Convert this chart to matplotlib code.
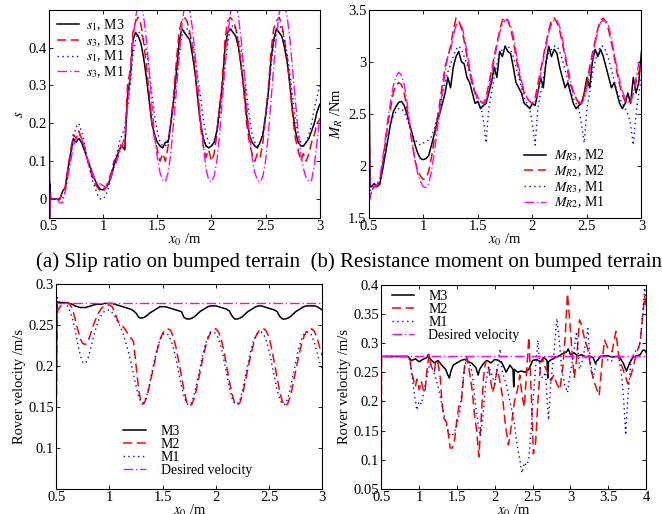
#!/usr/bin/env python3
"""Slip ratio, resistance moment and rover velocity on bumped terrain (4 panels)."""

import numpy as np
import matplotlib
matplotlib.use("Agg")
import matplotlib.pyplot as plt

plt.rcParams["font.family"] = ["Liberation Serif", "DejaVu Serif"]
plt.rcParams["mathtext.fontset"] = "stix"
plt.rcParams["font.size"] = 10.5

# shared x grid for panels a-c: a few points at the start spike, then 0.525..3.0 every 0.025
X_START = [0.5, 0.505, 0.51, 0.515]
X_GRID = X_START + list(np.round(np.arange(0.525, 3.0001, 0.025), 3))

# ---- (a) slip ratio ----
s1_m3 = [0.5, -0.05, 0.04, 0.0,
         0.0, 0.0, 0.0, 0.0, 0.02, 0.03, 0.08, 0.12, 0.16, 0.15,
         0.16, 0.15, 0.13, 0.11, 0.09, 0.07, 0.05, 0.035, 0.025, 0.025,
         0.03, 0.04, 0.06, 0.09, 0.11, 0.13, 0.14, 0.13, 0.27, 0.32,
         0.42, 0.44, 0.43, 0.41, 0.37, 0.32, 0.26, 0.2, 0.17, 0.15,
         0.14, 0.135, 0.15, 0.15, 0.2, 0.26, 0.33, 0.41, 0.45, 0.44,
         0.43, 0.42, 0.38, 0.33, 0.26, 0.2, 0.16, 0.14, 0.135, 0.14,
         0.15, 0.18, 0.24, 0.3, 0.4, 0.44, 0.45, 0.44, 0.43, 0.4,
         0.35, 0.29, 0.22, 0.17, 0.15, 0.14, 0.135, 0.15, 0.17, 0.22,
         0.28, 0.37, 0.42, 0.45, 0.44, 0.43, 0.4, 0.36, 0.3, 0.23,
         0.18, 0.15, 0.14, 0.14, 0.15, 0.16, 0.18, 0.2, 0.23, 0.25]
s3_m3 = [0.5, -0.05, 0.02, 0.0,
         0.0, 0.0, 0.0, 0.0, 0.02, 0.03, 0.08, 0.13, 0.17, 0.16,
         0.18, 0.16, 0.14, 0.11, 0.08, 0.06, 0.04, 0.03, 0.02, 0.02,
         0.03, 0.05, 0.07, 0.1, 0.11, 0.13, 0.15, 0.14, 0.3, 0.34,
         0.44, 0.47, 0.48, 0.46, 0.41, 0.35, 0.28, 0.2, 0.16, 0.13,
         0.1, 0.12, 0.1, 0.14, 0.2, 0.27, 0.36, 0.44, 0.47, 0.48,
         0.47, 0.44, 0.4, 0.34, 0.26, 0.19, 0.14, 0.11, 0.13, 0.1,
         0.12, 0.17, 0.24, 0.31, 0.42, 0.47, 0.48, 0.47, 0.45, 0.41,
         0.35, 0.28, 0.2, 0.15, 0.12, 0.1, 0.12, 0.11, 0.15, 0.22,
         0.29, 0.39, 0.45, 0.47, 0.48, 0.46, 0.42, 0.37, 0.3, 0.22,
         0.16, 0.13, 0.1, 0.12, 0.1, 0.12, 0.15, 0.17, 0.2, 0.21]
s1_m1 = [0.5, -0.05, 0.03, 0.0,
         0.0, 0.0, 0.0, 0.0, 0.0, 0.02, 0.06, 0.11, 0.16, 0.19,
         0.2, 0.18, 0.15, 0.11, 0.08, 0.05, 0.03, 0.01, 0.0, 0.0,
         0.01, 0.03, 0.06, 0.09, 0.12, 0.15, 0.17, 0.19, 0.24, 0.3,
         0.38, 0.42, 0.44, 0.44, 0.42, 0.39, 0.34, 0.28, 0.22, 0.18,
         0.15, 0.14, 0.14, 0.16, 0.2, 0.25, 0.31, 0.38, 0.43, 0.45,
         0.45, 0.43, 0.41, 0.37, 0.32, 0.27, 0.21, 0.17, 0.15, 0.14,
         0.15, 0.18, 0.22, 0.28, 0.35, 0.41, 0.45, 0.46, 0.45, 0.42,
         0.39, 0.34, 0.28, 0.22, 0.17, 0.15, 0.14, 0.15, 0.18, 0.22,
         0.28, 0.35, 0.41, 0.45, 0.46, 0.45, 0.42, 0.38, 0.33, 0.27,
         0.21, 0.17, 0.15, 0.14, 0.15, 0.17, 0.2, 0.24, 0.27, 0.3]
s3_m1 = [0.5, -0.05, 0.0, 0.0,
         0.0, 0.0, 0.0, -0.01, -0.01, 0.02, 0.06, 0.1, 0.14, 0.16,
         0.17, 0.16, 0.14, 0.11, 0.09, 0.07, 0.05, 0.04, 0.04, 0.035,
         0.03, 0.04, 0.06, 0.08, 0.1, 0.12, 0.14, 0.17, 0.24, 0.33,
         0.42, 0.48, 0.52, 0.52, 0.48, 0.42, 0.34, 0.25, 0.17, 0.11,
         0.07, 0.05, 0.045, 0.07, 0.12, 0.2, 0.28, 0.37, 0.45, 0.51,
         0.52, 0.5, 0.45, 0.38, 0.3, 0.21, 0.14, 0.08, 0.05, 0.045,
         0.06, 0.1, 0.17, 0.26, 0.35, 0.43, 0.49, 0.52, 0.52, 0.48,
         0.42, 0.34, 0.25, 0.17, 0.11, 0.07, 0.05, 0.045, 0.06, 0.1,
         0.17, 0.26, 0.35, 0.43, 0.49, 0.52, 0.52, 0.48, 0.42, 0.34,
         0.26, 0.18, 0.12, 0.08, 0.055, 0.045, 0.05, 0.09, 0.15, 0.22]

# ---- (b) resistance moment ----
mr3_m2 = [3.5, 2.6, 2.0, 1.8,
          1.8, 1.83, 1.8, 1.82, 1.95, 2.1, 2.25, 2.4, 2.52, 2.57,
          2.61, 2.62, 2.58, 2.5, 2.4, 2.3, 2.2, 2.12, 2.07, 2.06,
          2.07, 2.1, 2.2, 2.3, 2.42, 2.5, 2.6, 2.7, 2.85, 2.75,
          2.95, 3.05, 3.1, 3.0, 2.98, 2.85, 2.8, 2.7, 2.6, 2.62,
          2.55, 2.58, 2.6, 2.7, 2.8, 2.95, 2.85, 3.1, 3.05, 3.15,
          3.1, 3.08, 2.95, 2.8, 2.75, 2.7, 2.6, 2.58, 2.55, 2.6,
          2.58, 2.7, 2.85, 2.75, 3.0, 3.15, 3.05, 3.12, 3.08, 2.95,
          2.85, 2.75, 2.8, 2.7, 2.6, 2.55, 2.58, 2.6, 2.7, 2.85,
          2.75, 3.0, 3.12, 3.05, 3.12, 3.05, 2.95, 2.85, 2.75, 2.8,
          2.7, 2.6, 2.55, 2.6, 2.7, 2.6, 2.85, 2.7, 2.8, 3.1]
mr2_m2 = [3.5, 2.5, 1.9, 1.8,
          1.8, 1.8, 1.8, 1.85, 2.0, 2.2, 2.4, 2.55, 2.7, 2.78,
          2.8, 2.78, 2.7, 2.55, 2.38, 2.2, 2.05, 1.95, 1.9, 1.87,
          1.88, 1.95, 2.08, 2.25, 2.42, 2.6, 2.78, 2.95, 3.05, 3.15,
          3.3, 3.42, 3.4, 3.32, 3.2, 3.05, 2.9, 2.78, 2.7, 2.65,
          2.62, 2.6, 2.65, 2.78, 2.92, 3.05, 3.18, 3.3, 3.4, 3.43,
          3.4, 3.32, 3.2, 3.05, 2.9, 2.78, 2.7, 2.65, 2.62, 2.6,
          2.65, 2.78, 2.92, 3.05, 3.18, 3.3, 3.4, 3.42, 3.38, 3.3,
          3.18, 3.05, 2.9, 2.78, 2.7, 2.65, 2.6, 2.6, 2.68, 2.8,
          2.95, 3.08, 3.2, 3.32, 3.4, 3.42, 3.38, 3.3, 3.18, 3.05,
          2.9, 2.78, 2.68, 2.62, 2.6, 2.62, 2.7, 2.8, 2.9, 3.0]
mr3_m1 = [3.5, 2.5, 1.9, 1.68,
          1.75, 1.82, 1.82, 1.85, 1.98, 2.12, 2.28, 2.4, 2.48, 2.52,
          2.55, 2.55, 2.52, 2.45, 2.38, 2.3, 2.25, 2.22, 2.2, 2.22,
          2.23, 2.25, 2.28, 2.35, 2.45, 2.55, 2.68, 2.8, 2.9, 2.98,
          3.05, 3.12, 3.15, 3.12, 3.05, 2.98, 2.9, 2.8, 2.7, 2.62,
          2.58, 2.45, 2.22, 2.55, 2.7, 2.85, 2.98, 3.08, 3.12, 3.15,
          3.15, 3.12, 3.05, 2.95, 2.85, 2.75, 2.65, 2.6, 2.55, 2.4,
          2.2, 2.55, 2.7, 2.85, 2.98, 3.08, 3.12, 3.15, 3.15, 3.1,
          3.02, 2.92, 2.82, 2.72, 2.65, 2.6, 2.55, 2.4, 2.22, 2.55,
          2.7, 2.88, 3.0, 3.1, 3.15, 3.15, 3.1, 3.02, 2.92, 2.82,
          2.72, 2.65, 2.6, 2.55, 2.5, 2.4, 2.2, 2.5, 2.7, 2.85]
mr2_m1 = [3.5, 2.5, 1.68, 1.7,
          1.75, 1.8, 1.82, 1.88, 2.05, 2.25, 2.45, 2.62, 2.77, 2.86,
          2.9, 2.87, 2.78, 2.62, 2.42, 2.22, 2.05, 1.92, 1.85, 1.8,
          1.79, 1.83, 1.95, 2.12, 2.32, 2.52, 2.72, 2.9, 3.05, 3.1,
          3.25, 3.35, 3.38, 3.35, 3.25, 3.1, 2.95, 2.82, 2.72, 2.66,
          2.62, 2.6, 2.63, 2.72, 2.88, 3.02, 3.15, 3.28, 3.36, 3.4,
          3.4, 3.35, 3.25, 3.1, 2.95, 2.82, 2.72, 2.66, 2.62, 2.6,
          2.62, 2.72, 2.88, 3.02, 3.15, 3.28, 3.36, 3.4, 3.4, 3.34,
          3.22, 3.08, 2.94, 2.82, 2.72, 2.66, 2.62, 2.6, 2.64, 2.75,
          2.9, 3.04, 3.17, 3.3, 3.38, 3.4, 3.4, 3.34, 3.22, 3.08,
          2.94, 2.82, 2.72, 2.65, 2.62, 2.6, 2.7, 2.85, 2.98, 3.05]

# ---- (c) rover velocity, bumped terrain ----
DESIRED_V = 0.277
v_m3_c = [0.16, 0.27, 0.278, 0.277,
          0.277, 0.277, 0.277, 0.277, 0.276, 0.275, 0.273, 0.272, 0.271, 0.271,
          0.271, 0.272, 0.273, 0.274, 0.275, 0.275, 0.275, 0.276, 0.276, 0.276,
          0.276, 0.275, 0.274, 0.273, 0.272, 0.271, 0.27, 0.269, 0.267, 0.264,
          0.259, 0.258, 0.259, 0.261, 0.264, 0.266, 0.268, 0.27, 0.272, 0.272,
          0.272, 0.271, 0.27, 0.269, 0.268, 0.267, 0.266, 0.259, 0.257, 0.257,
          0.258, 0.26, 0.263, 0.266, 0.268, 0.27, 0.272, 0.273, 0.273, 0.273,
          0.272, 0.271, 0.27, 0.269, 0.267, 0.261, 0.257, 0.257, 0.258, 0.26,
          0.263, 0.266, 0.268, 0.27, 0.272, 0.273, 0.273, 0.272, 0.271, 0.27,
          0.269, 0.268, 0.266, 0.26, 0.257, 0.257, 0.258, 0.26, 0.263, 0.266,
          0.268, 0.27, 0.272, 0.273, 0.273, 0.273, 0.273, 0.272, 0.27, 0.268]
v_m2_c = [0.13, 0.22, 0.262, 0.268,
          0.27, 0.274, 0.276, 0.277, 0.275, 0.27, 0.258, 0.245, 0.233, 0.227,
          0.226, 0.23, 0.24, 0.25, 0.258, 0.265, 0.27, 0.273, 0.274, 0.274,
          0.272, 0.265, 0.256, 0.25, 0.248, 0.244, 0.238, 0.234, 0.23, 0.2,
          0.17, 0.153, 0.154, 0.162, 0.175, 0.19, 0.205, 0.22, 0.232, 0.24,
          0.244, 0.245, 0.243, 0.235, 0.222, 0.205, 0.188, 0.17, 0.156, 0.151,
          0.153, 0.162, 0.176, 0.192, 0.208, 0.222, 0.233, 0.241, 0.245, 0.245,
          0.241, 0.232, 0.218, 0.2, 0.182, 0.166, 0.155, 0.152, 0.155, 0.165,
          0.18, 0.196, 0.212, 0.225, 0.236, 0.242, 0.245, 0.245, 0.242, 0.234,
          0.22, 0.203, 0.185, 0.168, 0.156, 0.151, 0.154, 0.163, 0.178, 0.194,
          0.21, 0.224, 0.235, 0.242, 0.245, 0.245, 0.242, 0.234, 0.222, 0.212]
v_m1_c = [0.14, 0.25, 0.283, 0.28,
          0.278, 0.277, 0.277, 0.274, 0.268, 0.258, 0.245, 0.228, 0.213, 0.204,
          0.203, 0.21, 0.222, 0.235, 0.247, 0.256, 0.262, 0.266, 0.268, 0.268,
          0.265, 0.26, 0.254, 0.248, 0.24, 0.23, 0.218, 0.205, 0.19, 0.175,
          0.162, 0.155, 0.155, 0.163, 0.177, 0.193, 0.208, 0.222, 0.232, 0.238,
          0.24, 0.238, 0.232, 0.222, 0.208, 0.192, 0.176, 0.163, 0.154, 0.152,
          0.156, 0.167, 0.182, 0.198, 0.213, 0.226, 0.235, 0.24, 0.241, 0.239,
          0.233, 0.222, 0.207, 0.19, 0.174, 0.161, 0.154, 0.153, 0.158, 0.17,
          0.186, 0.202, 0.217, 0.229, 0.237, 0.241, 0.241, 0.238, 0.23, 0.218,
          0.202, 0.186, 0.17, 0.159, 0.153, 0.153, 0.16, 0.173, 0.189, 0.205,
          0.22, 0.231, 0.238, 0.241, 0.241, 0.237, 0.228, 0.216, 0.204, 0.195]

# ---- (d) rover velocity, second terrain: (x0, v) samples ----
v_m3_d = [(0.5, 0.277), (0.85, 0.277), (0.9, 0.27), (0.95, 0.273), (1.0, 0.268),
          (1.05, 0.272), (1.1, 0.275), (1.12, 0.28), (1.15, 0.272), (1.2, 0.266),
          (1.25, 0.27), (1.3, 0.262), (1.35, 0.255), (1.38, 0.245), (1.4, 0.24),
          (1.42, 0.252), (1.45, 0.262), (1.5, 0.266), (1.55, 0.27), (1.6, 0.272),
          (1.65, 0.268), (1.7, 0.265), (1.75, 0.258), (1.78, 0.245), (1.8, 0.255),
          (1.85, 0.265), (1.9, 0.27), (1.95, 0.266), (2.0, 0.272), (2.05, 0.27),
          (2.1, 0.265), (2.15, 0.25), (2.2, 0.262), (2.24, 0.255), (2.25, 0.225),
          (2.26, 0.255), (2.3, 0.25), (2.35, 0.252), (2.4, 0.25), (2.45, 0.255),
          (2.5, 0.27), (2.55, 0.272), (2.6, 0.268), (2.65, 0.275), (2.69, 0.27),
          (2.7, 0.24), (2.71, 0.268), (2.75, 0.272), (2.8, 0.275), (2.85, 0.278),
          (2.9, 0.282), (2.95, 0.285), (2.97, 0.29), (3.0, 0.28), (3.05, 0.283),
          (3.1, 0.278), (3.15, 0.28), (3.2, 0.276), (3.25, 0.278), (3.3, 0.275),
          (3.33, 0.265), (3.35, 0.27), (3.4, 0.277), (3.45, 0.278), (3.5, 0.278),
          (3.55, 0.276), (3.6, 0.277), (3.65, 0.276), (3.7, 0.265), (3.74, 0.252),
          (3.78, 0.265), (3.82, 0.275), (3.87, 0.278), (3.92, 0.28), (3.96, 0.288),
          (3.98, 0.288), (4.0, 0.284)]
v_m2_d = [(0.5, 0.07), (0.503, 0.277), (0.85, 0.277), (0.88, 0.27), (0.9, 0.25),
          (0.93, 0.235), (0.95, 0.225), (0.97, 0.238), (1.0, 0.22), (1.03, 0.235),
          (1.06, 0.215), (1.08, 0.22), (1.1, 0.25), (1.13, 0.28), (1.16, 0.26),
          (1.2, 0.25), (1.22, 0.27), (1.25, 0.265), (1.28, 0.24), (1.3, 0.2),
          (1.33, 0.17), (1.36, 0.165), (1.38, 0.15), (1.41, 0.12), (1.44, 0.12),
          (1.47, 0.135), (1.5, 0.17), (1.53, 0.195), (1.56, 0.2), (1.6, 0.26),
          (1.63, 0.275), (1.66, 0.255), (1.7, 0.22), (1.73, 0.18), (1.76, 0.15),
          (1.79, 0.105), (1.82, 0.17), (1.85, 0.24), (1.88, 0.27), (1.91, 0.265),
          (1.94, 0.24), (1.97, 0.215), (2.0, 0.23), (2.03, 0.255), (2.06, 0.24),
          (2.1, 0.21), (2.14, 0.16), (2.18, 0.125), (2.2, 0.14), (2.23, 0.17),
          (2.26, 0.2), (2.3, 0.22), (2.33, 0.245), (2.36, 0.21), (2.39, 0.19),
          (2.42, 0.25), (2.45, 0.31), (2.48, 0.22), (2.51, 0.11), (2.54, 0.13),
          (2.57, 0.2), (2.6, 0.255), (2.63, 0.275), (2.66, 0.26), (2.7, 0.25),
          (2.74, 0.235), (2.78, 0.245), (2.82, 0.23), (2.86, 0.22), (2.9, 0.26),
          (2.93, 0.31), (2.96, 0.385), (2.99, 0.34), (3.02, 0.285), (3.05, 0.24),
          (3.08, 0.27), (3.12, 0.34), (3.15, 0.33), (3.19, 0.305), (3.23, 0.29),
          (3.27, 0.255), (3.31, 0.235), (3.35, 0.22), (3.38, 0.21), (3.42, 0.27),
          (3.45, 0.305), (3.5, 0.29), (3.55, 0.285), (3.6, 0.32), (3.64, 0.275),
          (3.68, 0.26), (3.72, 0.245), (3.76, 0.23), (3.8, 0.245), (3.84, 0.265),
          (3.88, 0.285), (3.92, 0.3), (3.95, 0.34), (3.98, 0.38), (4.0, 0.36)]
v_m1_d = [(0.5, 0.277), (0.85, 0.277), (0.88, 0.27), (0.91, 0.24), (0.94, 0.21),
          (0.97, 0.185), (1.0, 0.2), (1.03, 0.195), (1.06, 0.215), (1.1, 0.24),
          (1.14, 0.265), (1.18, 0.255), (1.22, 0.24), (1.26, 0.22), (1.3, 0.195),
          (1.34, 0.17), (1.38, 0.15), (1.42, 0.14), (1.46, 0.145), (1.5, 0.16),
          (1.54, 0.185), (1.58, 0.24), (1.62, 0.27), (1.66, 0.268), (1.7, 0.25),
          (1.74, 0.2), (1.78, 0.16), (1.81, 0.14), (1.84, 0.17), (1.88, 0.23),
          (1.92, 0.26), (1.96, 0.245), (2.0, 0.23), (2.04, 0.26), (2.07, 0.29),
          (2.1, 0.25), (2.15, 0.23), (2.2, 0.2), (2.25, 0.17), (2.29, 0.13),
          (2.33, 0.1), (2.36, 0.077), (2.39, 0.095), (2.42, 0.09), (2.45, 0.1),
          (2.48, 0.15), (2.51, 0.21), (2.54, 0.26), (2.57, 0.305), (2.6, 0.25),
          (2.63, 0.24), (2.67, 0.25), (2.71, 0.168), (2.74, 0.23), (2.78, 0.28),
          (2.82, 0.342), (2.85, 0.31), (2.88, 0.26), (2.92, 0.23), (2.96, 0.215),
          (3.0, 0.25), (3.04, 0.28), (3.08, 0.32), (3.12, 0.255), (3.16, 0.27),
          (3.2, 0.3), (3.23, 0.325), (3.26, 0.27), (3.3, 0.24), (3.34, 0.265),
          (3.38, 0.275), (3.42, 0.28), (3.48, 0.272), (3.54, 0.268), (3.6, 0.28),
          (3.64, 0.275), (3.68, 0.24), (3.71, 0.19), (3.73, 0.142), (3.76, 0.21),
          (3.8, 0.27), (3.85, 0.285), (3.9, 0.29), (3.93, 0.31), (3.96, 0.36),
          (3.98, 0.395), (4.0, 0.37)]

BLACK = dict(color="black", linestyle="-", linewidth=1.1)
RED = dict(color="#ff0000", linestyle=(0, (6, 3)), linewidth=1.1)
BLUE = dict(color="#0000ff", linestyle=(0, (1, 2.5)), linewidth=1.0)
MAGENTA = dict(color="#ff00ff", linestyle=(0, (7, 2, 1, 2)), linewidth=1.0)

LEG = dict(frameon=False, fontsize=10, labelspacing=0.0, handlelength=1.6,
           borderaxespad=0.0)


def style_axes(ax):
    ax.tick_params(direction="in", top=True, right=True, length=3, width=0.6, pad=1.5)
    for sp in ax.spines.values():
        sp.set_linewidth(0.8)


def xy(pairs):
    return [p[0] for p in pairs], [p[1] for p in pairs]


fig = plt.figure(figsize=(6.62, 5.14), dpi=100)

# (a)
ax = fig.add_axes([0.074, 0.576, 0.409, 0.405])
ax.plot(X_GRID, s1_m3, label="$s_1$, M3", **BLACK)
ax.plot(X_GRID, s3_m3, label="$s_3$, M3", **RED)
ax.plot(X_GRID, s1_m1, label="$s_1$, M1", **BLUE)
ax.plot(X_GRID, s3_m1, label="$s_3$, M1", **MAGENTA)
ax.set_xlim(0.5, 3)
ax.set_ylim(-0.05, 0.5)
ax.set_xticks([0.5, 1, 1.5, 2, 2.5, 3])
ax.set_xticklabels(["0.5", "1", "1.5", "2", "2.5", "3"])
ax.set_yticks([0, 0.1, 0.2, 0.3, 0.4])
ax.set_yticklabels(["0", "0.1", "0.2", "0.3", "0.4"])
ax.set_xlabel("$x_0$ /m", labelpad=-1)
ax.set_ylabel("$s$", labelpad=2)
ax.legend(loc="upper left", bbox_to_anchor=(0.01, 0.99), handletextpad=0.5, **LEG)
style_axes(ax)

# (b)
ax = fig.add_axes([0.557, 0.576, 0.412, 0.405])
ax.plot(X_GRID, mr3_m2, label="$M_{R3}$, M2", **BLACK)
ax.plot(X_GRID, mr2_m2, label="$M_{R2}$, M2", **RED)
ax.plot(X_GRID, mr3_m1, label="$M_{R3}$, M1", **BLUE)
ax.plot(X_GRID, mr2_m1, label="$M_{R2}$, M1", **MAGENTA)
ax.set_xlim(0.5, 3)
ax.set_ylim(1.5, 3.5)
ax.set_xticks([0.5, 1, 1.5, 2, 2.5, 3])
ax.set_xticklabels(["0.5", "1", "1.5", "2", "2.5", "3"])
ax.set_yticks([1.5, 2, 2.5, 3, 3.5])
ax.set_yticklabels(["1.5", "2", "2.5", "3", "3.5"])
ax.set_xlabel("$x_0$ /m", labelpad=-1)
ax.set_ylabel("$M_R$ /Nm", labelpad=2)
ax.legend(loc="lower left", bbox_to_anchor=(0.548, 0.01), handletextpad=0.6, **LEG)
style_axes(ax)

# (c)
ax = fig.add_axes([0.085, 0.049, 0.402, 0.399])
ax.plot(X_GRID, v_m3_c, label="M3", **BLACK)
ax.plot(X_GRID, v_m2_c, label="M2", **RED)
ax.plot(X_GRID, v_m1_c, label="M1", **BLUE)
ax.plot([0.5, 3.0], [DESIRED_V, DESIRED_V], label="Desired velocity", **MAGENTA)
ax.set_xlim(0.5, 3)
ax.set_ylim(0.05, 0.3)
ax.set_xticks([0.5, 1, 1.5, 2, 2.5, 3])
ax.set_xticklabels(["0.5", "1", "1.5", "2", "2.5", "3"])
ax.set_yticks([0.1, 0.15, 0.2, 0.25, 0.3])
ax.set_yticklabels(["0.1", "0.15", "0.2", "0.25", "0.3"])
ax.set_xlabel("$x_0$ /m", labelpad=-1)
ax.set_ylabel("Rover velocity /m/s", labelpad=2)
ax.legend(loc="lower left", bbox_to_anchor=(0.231, 0.03), handletextpad=1.1, **LEG)
style_axes(ax)

# (d)
ax = fig.add_axes([0.576, 0.049, 0.400, 0.397])
ax.plot(*xy(v_m3_d), label="M3", **BLACK)
ax.plot(*xy(v_m2_d), label="M2", **RED)
ax.plot(*xy(v_m1_d), label="M1", **BLUE)
ax.plot([0.5, 4.0], [DESIRED_V, DESIRED_V], label="Desired velocity", **MAGENTA)
ax.set_xlim(0.5, 4)
ax.set_ylim(0.05, 0.4)
ax.set_xticks([0.5, 1, 1.5, 2, 2.5, 3, 3.5, 4])
ax.set_xticklabels(["0.5", "1", "1.5", "2", "2.5", "3", "3.5", "4"])
ax.set_yticks([0.05, 0.1, 0.15, 0.2, 0.25, 0.3, 0.35, 0.4])
ax.set_yticklabels(["0.05", "0.1", "0.15", "0.2", "0.25", "0.3", "0.35", "0.4"])
ax.set_xlabel("$x_0$ /m", labelpad=-1)
ax.set_ylabel("Rover velocity /m/s", labelpad=2)
ax.legend(loc="upper left", bbox_to_anchor=(0.02, 1.0), handletextpad=1.0, **LEG)
style_axes(ax)

fig.text(0.527, 0.49, "(a) Slip ratio on bumped terrain  (b) Resistance moment on bumped terrain",
         ha="center", va="center", fontsize=15)

fig.savefig("out.png", dpi=100)
